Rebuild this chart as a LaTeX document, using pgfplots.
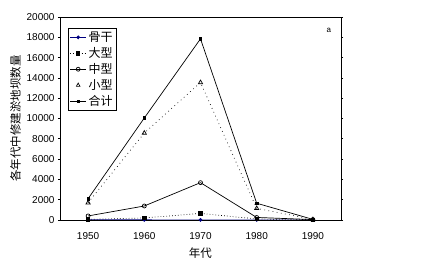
\documentclass[border=0pt]{standalone}
\usepackage{fontspec}
\setmainfont{Liberation Sans}
\newfontfamily\cjk{Noto Sans CJK SC}
\usepackage{pgfplots}
\pgfplotsset{compat=1.18}
\definecolor{navyb}{RGB}{0,0,128}
\begin{document}
\begin{tikzpicture}
\useasboundingbox (-60pt,-44pt) rectangle (369pt,220pt);
\begin{axis}[
  at={(0pt,0pt)}, anchor=south west,
  scale only axis, width=281pt, height=203pt,
  xmin=1945, xmax=1995, ymin=0, ymax=20000,
  xtick={1950,1960,1970,1980,1990},
  ytick={0,2000,...,20000},
  xticklabel style={font=\fontsize{10}{12}\selectfont, yshift=-7pt},
  yticklabel style={font=\fontsize{10}{12}\selectfont},
  /pgf/number format/assume math mode=true,
  /pgf/number format/1000 sep={},
  scaled y ticks=false,
  x tick style={draw=none},
  y tick style={black, line width=0.6pt},
  tick align=outside, major tick length=2pt,
  axis line style={black, line width=0.7pt},
  xlabel={\cjk\fontsize{11.5}{13}\selectfont 年代},
  ylabel={\cjk\fontsize{11.5}{13}\selectfont 各年代中修建淤地坝数量},
  xlabel style={yshift=-1pt},
  ylabel style={yshift=-1pt},
  legend style={at={(rel axis cs:0.028,0.946)}, anchor=north west, draw=black, line width=0.7pt,
    font=\cjk\fontsize{12}{13}\selectfont, inner sep=1.5pt, row sep=0.5pt,
    /tikz/every even column/.append style={column sep=1pt}},
  legend image post style={xscale=0.95},
  legend cell align=left,
]
\addplot[navyb, line width=0.7pt, mark=*, mark size=1.5pt, mark options={fill=navyb}] coordinates {
 (1950,20) (1960,15) (1970,10) (1980,5) (1990,2)};
\addlegendentry{骨干}
\addplot[black, line width=0.7pt, dash pattern=on 0.7pt off 2.2pt, mark=square*, mark size=1.7pt, mark options={solid}] coordinates {
 (1950,60) (1960,200) (1970,650) (1980,100) (1990,30)};
\addlegendentry{大型}
\addplot[black, line width=0.7pt, mark=o, mark size=2pt] coordinates {
 (1950,400) (1960,1380) (1970,3680) (1980,250) (1990,40)};
\addlegendentry{中型}
\addplot[black, line width=0.7pt, dash pattern=on 0.7pt off 3.5pt, mark=triangle, mark size=2.4pt, mark options={solid},
  legend image code/.code={\draw[draw=none, mark=triangle, mark size=2.2pt, mark options={draw=black, solid}] plot coordinates {(0.3cm,0cm)};}] coordinates {
 (1950,1700) (1960,8570) (1970,13550) (1980,1150) (1990,50)};
\addlegendentry{小型}
\addplot[black, line width=0.7pt, mark=square*, mark size=1.2pt] coordinates {
 (1950,2100) (1960,10050) (1970,17850) (1980,1650) (1990,60)};
\addlegendentry{合计}
\node[font=\fontsize{8}{9}\selectfont] at (rel axis cs:0.957,0.936) {a};
\end{axis}
\end{tikzpicture}
\end{document}
